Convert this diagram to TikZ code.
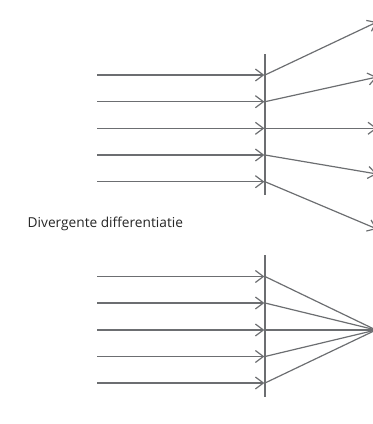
\documentclass[tikz,border=0pt]{standalone}
\usepackage{fontspec}
\setmainfont{Open Sans}
\usetikzlibrary{arrows.meta}
\definecolor{ln}{RGB}{108,110,113}
\tikzset{
  ray/.style={draw=ln, line width=1.2pt, -{Straight Barb[length=8pt,width=12pt,line width=1.2pt]}},
  plain/.style={draw=ln, line width=1.2pt},
  lbl/.style={font=\fontsize{13.7}{15}\selectfont, text=black!85, inner sep=0pt, anchor=base west}
}
\begin{document}
\begin{tikzpicture}[x=1pt,y=-1pt]
\useasboundingbox (0,0) rectangle (373,424);
% top lens
\coordinate (tl1) at (265,54);
\coordinate (tl2) at (265,195);
\draw[plain] (tl1) -- (tl2);
\foreach \i/\y/\ey in {1/75/22,2/101.7/77,3/128.3/128.3,4/155/174,5/181.7/229}{
  \coordinate (ts\i) at (97,\y);
  \coordinate (tm\i) at (264.4,\y);
  \coordinate (tc\i) at (265,\y);
  \coordinate (te\i) at (377,\ey);
  \draw[ray] (ts\i) -- (tm\i);
  \draw[ray] (tc\i) -- (te\i);
}
\node[lbl] (lab) at (27.5,227.3) {Divergente differentiatie};
% bottom lens
\coordinate (bl1) at (265,255);
\coordinate (bl2) at (265,397);
\draw[plain] (bl1) -- (bl2);
\coordinate (focus) at (376,330);
\foreach \i/\y in {1/276.5,2/303,3/330,4/356.5,5/383}{
  \coordinate (bs\i) at (97,\y);
  \coordinate (bm\i) at (264.4,\y);
  \coordinate (bc\i) at (265,\y);
  \draw[ray] (bs\i) -- (bm\i);
  \draw[plain] (bc\i) -- (focus);
}
\end{tikzpicture}
\end{document}
